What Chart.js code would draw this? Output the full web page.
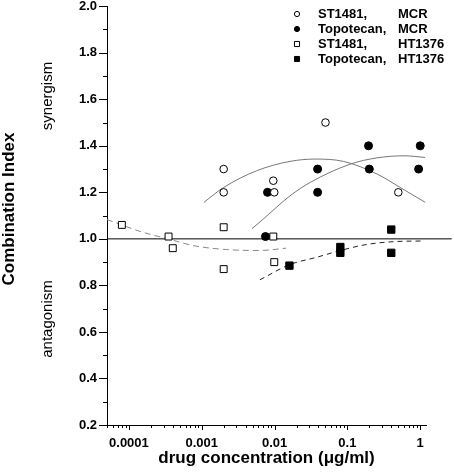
<!DOCTYPE html>
<html>
<head>
<meta charset="utf-8">
<script src="https://cdn.jsdelivr.net/npm/chart.js@4.4.1/dist/chart.umd.min.js"></script>
<style>
  html, body { margin: 0; padding: 0; background: #fff; }
  canvas { display: block; }
</style>
</head>
<body>
<canvas id="ci" width="454" height="476"></canvas>
<script>
// Combination index of ST1481 / topotecan in MCR and HT1376 cells

const FONT = 'Arial, "Liberation Sans", Helvetica, sans-serif';

// ─── measured points ─────────────────────────────────────────────────────────
const stMcrX   = [0.002, 0.002, 0.0096, 0.0099, 0.05, 0.5];
const stMcrY   = [1.30, 1.20, 1.25, 1.20, 1.50, 1.20];
const topoMcrX = [0.008, 0.0075, 0.039, 0.039, 0.195, 0.2, 1.0, 0.95];
const topoMcrY = [1.20, 1.01, 1.30, 1.20, 1.40, 1.30, 1.40, 1.30];
const stHtX    = [0.00008, 0.00035, 0.0004, 0.002, 0.002, 0.0096, 0.0099];
const stHtY    = [1.06, 1.01, 0.96, 1.05, 0.87, 1.01, 0.90];
const topoHtX  = [0.016, 0.08, 0.08, 0.4, 0.4];
const topoHtY  = [0.885, 0.965, 0.94, 1.04, 0.94];

// ─── fitted curves ───────────────────────────────────────────────────────────
const stMcrFitX   = [0.00107, 0.002, 0.0057, 0.0163, 0.036, 0.088, 0.254, 0.53, 1.17];
const stMcrFitY   = [1.157, 1.221, 1.293, 1.333, 1.343, 1.333, 1.279, 1.221, 1.157];
const topoMcrFitX = [0.0049, 0.0067, 0.0163, 0.031, 0.109, 0.254, 0.6, 1.17];
const topoMcrFitY = [1.044, 1.080, 1.185, 1.243, 1.321, 1.348, 1.357, 1.350];
const stHtFitX    = [0.00005, 0.000157, 0.000347, 0.000766, 0.0022, 0.0063, 0.0144];
const stHtFitY    = [1.083, 1.028, 1.000, 0.971, 0.954, 0.950, 0.960];
const topoHtFitX  = [0.0063, 0.016, 0.038, 0.08, 0.185, 0.43, 1.09];
const topoHtFitY  = [0.824, 0.889, 0.921, 0.950, 0.976, 0.988, 0.991];

// reference line CI = 1 (runs past the end of the x axis in the original)
const refLineX = [0.00005, 2.7];
const refLineY = [1.0, 1.0];

// ─── axes ────────────────────────────────────────────────────────────────────
const xMajor       = [0.0001, 0.001, 0.01, 0.1, 1];
const xMajorLabels = ["0.0001", "0.001", "0.01", "0.1", "1"];
const xMinorStart  = [0.00005, 0.00006, 0.00007, 0.00008, 0.00009];
const xSteps       = [1, 2, 3, 4, 5, 6, 7, 8, 9];

const legendLabels = ["ST1481, MCR", "Topotecan, MCR", "ST1481, HT1376", "Topotecan, HT1376"];

const zip = (xs, ys) => xs.map((x, i) => ({ x, y: ys[i] }));
const isMajorX = v => xMajor.some(m => Math.abs(v - m) / m < 1e-6);

const xTickValues = [...xMinorStart];
xMajor.slice(0, -1).forEach(d => xSteps.forEach(s => xTickValues.push(s * d)));
xTickValues.push(1);

function marks(label, xs, ys, style, filled, r) {
  return {
    type: "scatter", label, data: zip(xs, ys), order: 0,
    pointStyle: style, pointRadius: r, pointBorderWidth: 1,
    pointBackgroundColor: filled ? "#000" : "#fff", pointBorderColor: "#000",
  };
}
function curve(xs, ys, color, dash) {
  return {
    type: "scatter", data: zip(xs, ys), order: 1, showLine: true,
    borderColor: color, borderWidth: 1, borderDash: dash,
    cubicInterpolationMode: "monotone", pointRadius: 0, fill: false,
  };
}

// tick marks, y titles and legend are drawn by hand
const decorations = {
  id: "decorations",
  afterDraw(chart) {
    const { ctx, chartArea: a, scales: { x, y } } = chart;
    ctx.save();
    ctx.strokeStyle = "#000";
    ctx.lineWidth = 1;
    ctx.beginPath();
    y.ticks.forEach(t => {
      const py = Math.round(y.getPixelForValue(t.value)) + 0.5;
      const len = Math.round(t.value * 10) % 2 === 0 ? 8 : 4;
      ctx.moveTo(a.left - len, py); ctx.lineTo(a.left, py);
    });
    x.ticks.forEach(t => {
      const px = Math.round(x.getPixelForValue(t.value)) + 0.5;
      const len = isMajorX(t.value) ? 5 : 3;
      ctx.moveTo(px, a.bottom); ctx.lineTo(px, a.bottom + len);
    });
    ctx.stroke();

    // rotated y titles
    const vtext = (txt, cx, cy, font) => {
      ctx.save();
      ctx.translate(cx, cy); ctx.rotate(-Math.PI / 2);
      ctx.font = font; ctx.fillStyle = "#000";
      ctx.textAlign = "center"; ctx.textBaseline = "middle";
      ctx.fillText(txt, 0, 0);
      ctx.restore();
    };
    vtext("Combination Index", 9, 209, `bold 17px ${FONT}`);
    vtext("synergism", 48, 96, `15px ${FONT}`);
    vtext("antagonism", 48, 319, `15px ${FONT}`);

    // legend
    ctx.font = `bold 13px ${FONT}`;
    ctx.textBaseline = "middle";
    ctx.textAlign = "left";
    legendLabels.forEach((lab, i) => {
      const ds = chart.data.datasets[i];
      const ly = 14 + i * 15;
      ctx.fillStyle = ds.pointBackgroundColor;
      ctx.strokeStyle = "#000";
      ctx.lineWidth = 1;
      Chart.helpers.drawPoint(ctx, {
        pointStyle: ds.pointStyle, radius: ds.pointStyle === "rect" ? 3.6 : 2.6,
        rotation: 0, borderWidth: 1,
      }, 297, ly);
      const [drug, cell] = lab.split(", ");
      ctx.fillStyle = "#000";
      ctx.fillText(drug + ",", 318, ly);
      ctx.fillText(cell, 398, ly);
    });
    ctx.restore();
  },
};

new Chart(document.getElementById("ci"), {
  type: "scatter",
  data: {
    datasets: [
      marks(legendLabels[0], stMcrX, stMcrY, "circle", false, 3.8),
      marks(legendLabels[1], topoMcrX, topoMcrY, "circle", true, 4),
      marks(legendLabels[2], stHtX, stHtY, "rect", false, 4.9),
      marks(legendLabels[3], topoHtX, topoHtY, "rect", true, 5.2),
      curve(stMcrFitX, stMcrFitY, "#777", []),
      curve(topoMcrFitX, topoMcrFitY, "#777", []),
      curve(stHtFitX, stHtFitY, "#888", [6, 4]),
      curve(topoHtFitX, topoHtFitY, "#222", [5, 4]),
      { ...curve(refLineX, refLineY, "#000", []), cubicInterpolationMode: "default", tension: 0, clip: false },
    ],
  },
  options: {
    responsive: false, animation: false, events: [],
    layout: { padding: { top: 5, right: 28, left: 0, bottom: 0 } },
    plugins: { legend: { display: false }, tooltip: { enabled: false } },
    scales: {
      x: {
        type: "logarithmic", min: 0.00005, max: 1.2,
        grid: { display: false, drawTicks: true, tickLength: 5 },
        border: { display: true, color: "#000", width: 1 },
        afterBuildTicks: s => { s.ticks = xTickValues.map(v => ({ value: v, major: isMajorX(v) })); },
        afterFit: s => { s.height = 51; s.paddingLeft = 0; s.paddingRight = 0; },
        ticks: {
          autoSkip: false, maxRotation: 0, padding: 6, color: "#000",
          font: { family: FONT, size: 13, weight: "bold" },
          callback: v => { const i = xMajor.findIndex(m => Math.abs(v - m) / m < 1e-6); return i < 0 ? "" : xMajorLabels[i]; },
        },
        title: {
          display: true, text: "drug concentration (μg/ml)", color: "#000",
          font: { family: FONT, size: 17, weight: "bold" }, padding: { top: 0, bottom: 7 },
        },
      },
      y: {
        min: 0.2, max: 2.0,
        grid: { display: false, drawTicks: true, tickLength: 8 },
        border: { display: true, color: "#000", width: 1 },
        afterFit: s => { s.width = 107; s.paddingTop = 0; s.paddingBottom = 0; },
        ticks: {
          stepSize: 0.1, autoSkip: false, padding: 2, color: "#000",
          font: { family: FONT, size: 13, weight: "bold" },
          callback: v => Math.round(v * 10) % 2 === 0 ? v.toFixed(1) : "",
        },
      },
    },
  },
  plugins: [decorations],
});
</script>
</body>
</html>
